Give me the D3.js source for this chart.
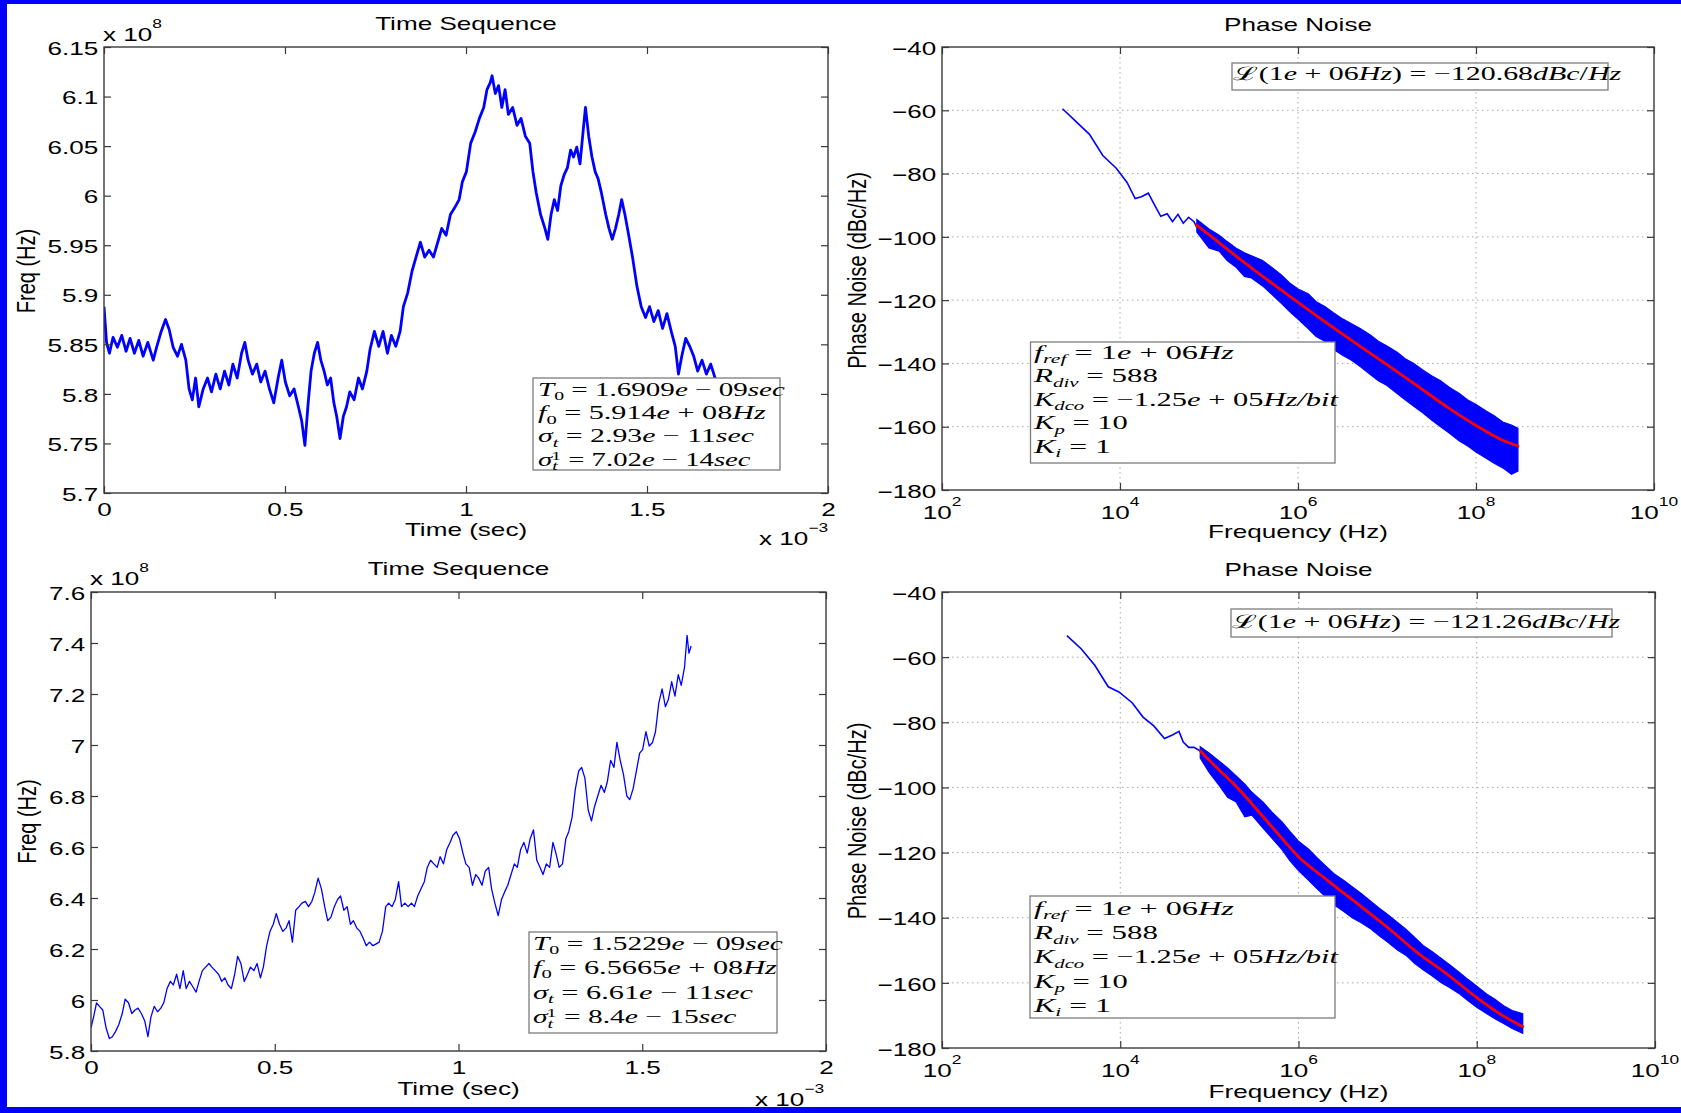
<!DOCTYPE html>
<html>
<head>
<meta charset="utf-8">
<title>Time Sequence and Phase Noise</title>
<script src="https://cdn.jsdelivr.net/npm/d3@7"></script>
<style>
  html, body { margin: 0; padding: 0; background: #fff; }
  svg { display: block; }
  .sans { font-family: "Liberation Sans", Arial, Helvetica, sans-serif; fill: #000; }
  .math { font-family: "Liberation Serif", "Times New Roman", serif; fill: #000; white-space: pre; }
</style>
</head>
<body>
<svg id="fig" width="1681" height="1113"></svg>
<script>
// ---------------- data ----------------
// Run 1 time sequence: time in 1e-3 s, frequency in 1e8 Hz
const seq1Time = [0,0.007,0.015,0.025,0.037,0.049,0.061,0.072,0.084,0.096,
  0.108,0.121,0.136,0.146,0.158,0.170,0.180,0.191,0.203,0.214,
  0.226,0.235,0.244,0.253,0.262,0.274,0.286,0.297,0.309,0.321,
  0.333,0.345,0.356,0.368,0.380,0.389,0.398,0.410,0.422,0.433,
  0.445,0.457,0.469,0.481,0.491,0.501,0.513,0.525,0.537,0.546,
  0.555,0.564,0.572,0.581,0.590,0.599,0.608,0.617,0.626,0.635,
  0.643,0.652,0.661,0.670,0.679,0.691,0.703,0.714,0.726,0.735,
  0.747,0.759,0.771,0.783,0.794,0.806,0.818,0.827,0.839,0.851,
  0.862,0.874,0.886,0.898,0.910,0.922,0.933,0.945,0.957,0.969,
  0.981,0.990,1.001,1.013,1.025,1.037,1.049,1.058,1.067,1.072,
  1.081,1.090,1.099,1.108,1.117,1.129,1.141,1.152,1.164,1.176,
  1.185,1.194,1.206,1.218,1.226,1.235,1.244,1.253,1.262,1.271,
  1.280,1.289,1.297,1.306,1.315,1.324,1.330,1.339,1.348,1.357,
  1.365,1.374,1.386,1.395,1.404,1.413,1.422,1.430,1.439,1.448,
  1.460,1.472,1.484,1.496,1.507,1.519,1.531,1.543,1.555,1.567,
  1.578,1.587,1.596,1.607,1.618,1.629,1.640,1.652,1.664,1.676,
  1.688,1.700];
const seq1Freq = [5.888,5.852,5.841,5.857,5.847,5.859,5.843,5.856,5.841,5.854,
  5.838,5.852,5.834,5.848,5.863,5.875,5.865,5.847,5.838,5.850,
  5.834,5.805,5.794,5.816,5.787,5.805,5.816,5.802,5.820,5.805,
  5.823,5.809,5.830,5.816,5.841,5.852,5.834,5.820,5.830,5.812,
  5.823,5.805,5.791,5.816,5.834,5.812,5.798,5.805,5.787,5.773,
  5.748,5.791,5.823,5.841,5.852,5.834,5.823,5.809,5.816,5.791,
  5.777,5.755,5.777,5.787,5.802,5.794,5.816,5.805,5.823,5.845,
  5.863,5.848,5.863,5.841,5.859,5.848,5.863,5.888,5.902,5.924,
  5.938,5.953,5.938,5.945,5.938,5.953,5.967,5.960,5.981,5.988,
  5.996,6.014,6.024,6.053,6.064,6.078,6.089,6.107,6.114,6.121,
  6.103,6.111,6.089,6.107,6.082,6.089,6.071,6.078,6.060,6.053,
  6.024,6.003,5.981,5.967,5.956,5.981,5.996,5.985,6.010,6.021,
  6.028,6.046,6.039,6.049,6.032,6.067,6.089,6.060,6.039,6.024,
  6.017,6.003,5.981,5.967,5.956,5.967,5.981,5.996,5.981,5.963,
  5.938,5.909,5.888,5.877,5.888,5.873,5.884,5.866,5.881,5.863,
  5.848,5.820,5.838,5.856,5.848,5.838,5.823,5.834,5.820,5.830,
  5.816,5.809];

// Run 2 time sequence: time in 1e-3 s, frequency in 1e8 Hz
const seq2Time = [0.000,0.007,0.015,0.023,0.032,0.041,0.050,0.058,0.067,0.076,
  0.085,0.093,0.102,0.111,0.120,0.128,0.137,0.146,0.155,0.163,
  0.172,0.181,0.190,0.198,0.207,0.216,0.224,0.233,0.242,0.251,
  0.259,0.268,0.277,0.286,0.294,0.303,0.312,0.321,0.329,0.338,
  0.347,0.356,0.364,0.373,0.382,0.391,0.399,0.408,0.417,0.426,
  0.434,0.443,0.452,0.461,0.469,0.478,0.487,0.496,0.504,0.513,
  0.522,0.531,0.539,0.548,0.557,0.566,0.574,0.583,0.592,0.601,
  0.609,0.618,0.627,0.636,0.644,0.653,0.662,0.671,0.679,0.688,
  0.697,0.706,0.714,0.723,0.732,0.741,0.749,0.758,0.767,0.776,
  0.784,0.793,0.802,0.810,0.819,0.828,0.837,0.845,0.854,0.863,
  0.872,0.880,0.889,0.898,0.907,0.915,0.924,0.933,0.942,0.950,
  0.959,0.968,0.977,0.985,0.994,1.003,1.012,1.020,1.029,1.038,
  1.047,1.055,1.064,1.073,1.082,1.090,1.099,1.108,1.117,1.125,
  1.134,1.143,1.152,1.160,1.169,1.178,1.187,1.195,1.204,1.213,
  1.222,1.230,1.239,1.248,1.257,1.265,1.274,1.283,1.292,1.300,
  1.309,1.318,1.327,1.335,1.344,1.353,1.362,1.370,1.379,1.388,
  1.397,1.405,1.414,1.423,1.431,1.440,1.449,1.458,1.466,1.475,
  1.484,1.493,1.501,1.510,1.519,1.528,1.536,1.545,1.554,1.563,
  1.571,1.580,1.589,1.598,1.606,1.615,1.622,1.627,1.633];
const seq2Freq = [5.891,5.933,5.989,5.975,5.961,5.891,5.849,5.856,5.877,5.905,
  5.947,6.003,5.989,5.947,5.961,5.968,5.947,5.919,5.856,5.933,
  5.975,5.954,5.968,5.989,6.045,6.073,6.059,6.101,6.045,6.115,
  6.045,6.073,6.052,6.031,6.073,6.115,6.129,6.143,6.129,6.115,
  6.101,6.073,6.087,6.059,6.045,6.101,6.171,6.143,6.073,6.101,
  6.129,6.115,6.143,6.087,6.129,6.213,6.269,6.297,6.339,6.297,
  6.269,6.283,6.311,6.227,6.352,6.366,6.380,6.387,6.366,6.387,
  6.422,6.478,6.436,6.366,6.311,6.325,6.366,6.394,6.408,6.352,
  6.366,6.297,6.311,6.283,6.269,6.241,6.213,6.227,6.213,6.220,
  6.227,6.269,6.366,6.380,6.366,6.394,6.464,6.366,6.380,6.366,
  6.380,6.366,6.408,6.436,6.464,6.520,6.548,6.534,6.520,6.562,
  6.534,6.590,6.618,6.646,6.660,6.632,6.576,6.534,6.520,6.450,
  6.492,6.478,6.450,6.506,6.520,6.436,6.380,6.331,6.394,6.422,
  6.450,6.492,6.534,6.520,6.590,6.618,6.576,6.632,6.667,6.548,
  6.520,6.492,6.534,6.520,6.618,6.576,6.520,6.534,6.632,6.660,
  6.716,6.828,6.898,6.912,6.870,6.744,6.702,6.758,6.800,6.842,
  6.814,6.856,6.940,6.912,7.010,6.940,6.884,6.800,6.786,6.828,
  6.898,6.968,6.982,7.052,6.996,7.010,7.052,7.164,7.220,7.150,
  7.178,7.248,7.192,7.276,7.234,7.304,7.430,7.360,7.388];

// Run 1 phase noise: offset frequency (Hz) and level (dBc/Hz)
const pn1LowF  = [2.26e3,3.21e3,4.54e3,6.41e3,9.08e3,1.20e4,1.48e4,1.74e4,2.08e4,2.40e4,2.87e4,3.39e4,3.89e4,4.48e4,5.14e4,5.90e4,6.78e4,7.26e4];
const pn1LowDb = [-59.5,-63.6,-67.6,-74.3,-78.3,-82.8,-87.9,-87.3,-86.2,-89.5,-93.5,-92.7,-95.2,-92.9,-95.7,-93.8,-95.2,-96.9];
const pn1BandF = [7.3e4,1e5,1.3e5,1.6e5,2e5,2.5e5,3e5,4e5,5e5,6.5e5,8e5,1e6,1.3e6,1.6e6,2e6,2.5e6,3.2e6,4e6,5e6,6.5e6,8e6,1e7,1.3e7,1.6e7,2e7,2.5e7,3.2e7,4e7,5e7,6.5e7,8e7,1e8,1.3e8,1.6e8,2e8,2.5e8,2.96e8];
const pn1Upper = [-94.5,-97.5,-99.5,-101.5,-103.5,-105.0,-106.0,-107.5,-109.5,-112.0,-114.5,-116.5,-118.0,-120.5,-122.0,-124.0,-126.0,-127.5,-129.0,-131.0,-133.0,-134.5,-136.5,-138.5,-140.0,-142.0,-144.0,-145.5,-147.5,-149.5,-151.5,-153.0,-155.0,-156.5,-158.5,-159.5,-160.5];
const pn1Lower = [-98.5,-103.5,-104.5,-107.5,-109.5,-112.5,-113.0,-115.5,-118.0,-121.0,-123.5,-126.0,-129.0,-131.5,-133.0,-135.5,-137.5,-139.0,-141.0,-143.5,-145.5,-147.0,-149.5,-151.5,-153.5,-155.5,-158.0,-160.0,-162.0,-164.5,-166.0,-168.0,-170.0,-171.5,-173.0,-175.0,-174.0];
const pn1FitF  = [7.26e4,1e5,2e5,5e5,1e6,2e6,5e6,1e7,2e7,5e7,1e8,2e8,2.96e8];
const pn1FitDb = [-96.3,-99.3,-106.0,-114.5,-120.68,-126.8,-134.6,-140.4,-146.3,-154.2,-159.6,-164.3,-166.1];

// Run 2 phase noise
const pn2LowF  = [2.52e3,3.66e3,5.18e3,7.33e3,9.66e3,1.36e4,1.80e4,2.38e4,3.13e4,3.85e4,4.56e4,5.09e4,5.85e4,6.71e4,7.93e4];
const pn2LowDb = [-53.4,-57.5,-62.5,-69.1,-70.7,-74.0,-78.4,-81.1,-85.0,-83.9,-82.8,-86.1,-87.7,-87.7,-88.8];
const pn2BandF = [7.9e4,1e5,1.3e5,1.6e5,2e5,2.5e5,3e5,4e5,5e5,6.5e5,8e5,1e6,1.3e6,1.6e6,2e6,2.5e6,3.2e6,4e6,5e6,6.5e6,8e6,1e7,1.3e7,1.6e7,2e7,2.5e7,3.2e7,4e7,5e7,6.5e7,8e7,1e8,1.3e8,1.6e8,2e8,2.5e8,3.28e8];
const pn2Upper = [-87.5,-89.5,-92,-94,-96.5,-99,-101.5,-104.5,-107.5,-110.5,-113.5,-116.5,-119,-121.5,-124,-126.5,-128.5,-130.5,-132.5,-135,-137,-139,-141.5,-143.5,-146,-148.5,-150.5,-152.5,-154.5,-157,-159,-161,-163.5,-165,-167,-168.5,-169.5];
const pn2Lower = [-91,-95.5,-99.5,-103,-104.5,-109,-108.5,-112.5,-115.5,-119,-122.5,-125.5,-128.5,-131,-133.5,-136,-138,-140,-141.5,-143.5,-145.5,-147.5,-150,-151.5,-154,-156,-158,-160,-161.5,-163.5,-165.5,-167.5,-169.5,-171,-172.5,-174,-175.5];
const pn2FitF  = [7.93e4,1e5,2e5,5e5,1e6,2e6,5e6,1e7,2e7,5e7,1e8,2e8,3.28e8];
const pn2FitDb = [-88.8,-91.7,-99.7,-112.0,-121.26,-128.0,-136.5,-143.0,-150.0,-158.0,-164.5,-170.2,-173.4];

// Axis ticks
const seq1YTicks = [5.7,5.75,5.8,5.85,5.9,5.95,6,6.05,6.1,6.15];
const seq2YTicks = [5.8,6,6.2,6.4,6.6,6.8,7,7.2,7.4,7.6];
const seqXTicks  = [0,0.5,1,1.5,2];
const pnYTicks   = [-180,-160,-140,-120,-100,-80,-60,-40];
const pnXTicks   = [1e2,1e4,1e6,1e8,1e10];

// Annotation texts: [text, style]  (i = italic, sub = italic subscript, sub0 = upright subscript, sup = superscript)
const seq1Stats = [
  [["T","i"],["0","sub0"],[" = 1.6909","n"],["e","i"],[" − 09","n"],["sec","i"]],
  [["f","i"],["0","sub0"],[" = 5.914","n"],["e","i"],[" + 08","n"],["Hz","i"]],
  [["σ","i"],["t","sub"],[" = 2.93","n"],["e","i"],[" − 11","n"],["sec","i"]],
  [["σ","i"],["t","sub"],["1","sup"],[" = 7.02","n"],["e","i"],[" − 14","n"],["sec","i"]]
];
const seq2Stats = [
  [["T","i"],["0","sub0"],[" = 1.5229","n"],["e","i"],[" − 09","n"],["sec","i"]],
  [["f","i"],["0","sub0"],[" = 6.5665","n"],["e","i"],[" + 08","n"],["Hz","i"]],
  [["σ","i"],["t","sub"],[" = 6.61","n"],["e","i"],[" − 11","n"],["sec","i"]],
  [["σ","i"],["t","sub"],["1","sup"],[" = 8.4","n"],["e","i"],[" − 15","n"],["sec","i"]]
];
const loopParams = [
  [["f","i"],["ref","sub"],[" = 1","n"],["e","i"],[" + 06","n"],["Hz","i"]],
  [["R","i"],["div","sub"],[" = 588","n"]],
  [["K","i"],["dco","sub"],[" = −1.25","n"],["e","i"],[" + 05","n"],["Hz/bit","i"]],
  [["K","i"],["p","sub"],[" = 10","n"]],
  [["K","i"],["i","sub"],[" = 1","n"]]
];
const pn1Spot = [["ℒ","n"],["(1","n"],["e","i"],[" + 06","n"],["Hz","i"],[") = −120.68","n"],["dBc","i"],["/","n"],["Hz","i"]];
const pn2Spot = [["ℒ","n"],["(1","n"],["e","i"],[" + 06","n"],["Hz","i"],[") = −121.26","n"],["dBc","i"],["/","n"],["Hz","i"]];

// ---------------- drawing ----------------
const SX = 1.45;            // horizontal glyph stretch of the figure text
const AXIS = "#3a3a3a";
const svg = d3.select("#fig");
svg.append("rect").attr("width", 1681).attr("height", 1113).attr("fill", "#fff");
const defs = svg.append("defs");

function sText(g, x, y, str, anchor = "start", fs = 18) {
  return g.append("text").attr("class", "sans")
    .attr("transform", `translate(${x},${y}) scale(${SX},1)`)
    .attr("text-anchor", anchor).style("font-size", fs + "px").text(str);
}
function sPow(g, x, y, base, exp, anchor = "start") {
  const t = g.append("text").attr("class", "sans")
    .attr("transform", `translate(${x},${y}) scale(${SX},1)`)
    .attr("text-anchor", anchor).style("font-size", "18px");
  t.append("tspan").text(base);
  t.append("tspan").attr("dy", -13).style("font-size", "12px").text(exp);
  return t;
}
function yLabel(g, x, y, str) {
  g.append("text").attr("class", "sans")
    .attr("transform", `translate(${x},${y}) rotate(-90) scale(1,1.26)`)
    .attr("text-anchor", "middle").style("font-size", "20px").text(str);
}
function mathLine(g, x, y, segs, width, fs = 18.5) {
  const t = g.append("text").attr("class", "math").attr("x", x).attr("y", y)
    .style("font-size", fs + "px");
  let shift = 0;
  for (const [str, kind] of segs) {
    let off = 0, small = false, italic = false, dx = 0;
    if (kind === "i") italic = true;
    if (kind === "sub") { italic = true; small = true; off = 0.22 * fs; }
    if (kind === "sub0") { small = true; off = 0.22 * fs; }
    if (kind === "sup") { small = true; off = -0.34 * fs; dx = -0.22 * fs; }
    const sp = t.append("tspan").text(str).attr("dy", off - shift);
    shift = off;
    if (dx) sp.attr("dx", dx);
    if (italic) sp.style("font-style", "italic");
    if (small) sp.style("font-size", (0.68 * fs) + "px");
  }
  const w = t.node().getComputedTextLength();
  t.attr("transform", `translate(${x},0) scale(${width / w},1) translate(${-x},0)`);
}
function textBox(g, x, y, w, h) {
  g.append("rect").attr("x", x).attr("y", y).attr("width", w).attr("height", h)
    .attr("fill", "#fff").attr("stroke", "#7c7c7c").attr("stroke-width", 1.3);
}

// Inward ticks on all four sides plus the frame
function drawAxes(g, x, y, xTicks, yTicks, box, opts) {
  const styleTicks = sel => {
    sel.select(".domain").remove();
    sel.selectAll(".tick line").attr("stroke", AXIS).attr("stroke-width", 1.2);
  };
  const left = g.append("g").attr("transform", `translate(${box.x0},0)`)
    .call(d3.axisLeft(y).tickValues(yTicks).tickSizeInner(-7).tickSizeOuter(0)
      .tickPadding(4).tickFormat(opts.yFmt));
  styleTicks(left);
  left.selectAll(".tick text").attr("class", "sans").attr("fill", "#000")
    .style("font-size", "18px").attr("dy", "0.4em")
    .attr("transform", `scale(${SX},1)`);
  const right = g.append("g").attr("transform", `translate(${box.x1},0)`)
    .call(d3.axisRight(y).tickValues(yTicks).tickSizeInner(-7).tickSizeOuter(0).tickFormat(""));
  styleTicks(right);
  const bottom = g.append("g").attr("transform", `translate(0,${box.y1})`)
    .call(d3.axisBottom(x).tickValues(xTicks).tickSizeInner(-7).tickSizeOuter(0)
      .tickPadding(10).tickFormat(opts.xFmt || ""));
  styleTicks(bottom);
  bottom.selectAll(".tick text").attr("class", "sans").attr("fill", "#000")
    .style("font-size", "18px").attr("transform", `scale(${SX},1)`);
  const top = g.append("g").attr("transform", `translate(0,${box.y0})`)
    .call(d3.axisTop(x).tickValues(xTicks).tickSizeInner(-7).tickSizeOuter(0).tickFormat(""));
  styleTicks(top);
  g.append("rect").attr("x", box.x0).attr("y", box.y0)
    .attr("width", box.x1 - box.x0).attr("height", box.y1 - box.y0)
    .attr("fill", "none").attr("stroke", AXIS).attr("stroke-width", 1.4);
}

function clipFor(id, box) {
  defs.append("clipPath").attr("id", id).append("rect")
    .attr("x", box.x0).attr("y", box.y0).attr("width", box.x1 - box.x0).attr("height", box.y1 - box.y0);
  return `url(#${id})`;
}

// ---- time sequence panels ----
function seqPanel(cfg) {
  const { box, time, freq, yDom, yTicks, stats, statBox, statX, statY, statW, stroke } = cfg;
  const g = svg.append("g");
  const x = d3.scaleLinear().domain([0, 2]).range([box.x0, box.x1]);
  const y = d3.scaleLinear().domain(yDom).range([box.y1, box.y0]);
  const pts = d3.zip(time, freq);
  g.append("path").datum(pts)
    .attr("clip-path", clipFor(cfg.id, box))
    .attr("fill", "none").attr("stroke", "#0000ff").attr("stroke-width", stroke)
    .attr("stroke-linejoin", "round")
    .attr("d", d3.line().x(d => x(d[0])).y(d => y(d[1])));
  textBox(g, ...statBox);
  stats.forEach((line, i) => mathLine(g, statX, statY[i], line, statW[i]));
  drawAxes(g, x, y, seqXTicks, yTicks, box, { yFmt: d3.format("~g"), xFmt: d3.format("~g") });
  sText(g, (box.x0 + box.x1) / 2, cfg.titleY, "Time Sequence", "middle");
  sPow(g, box.x0 - 1, cfg.expY, "x 10", "8");
  sText(g, (box.x0 + box.x1) / 2, cfg.xLabY, "Time (sec)", "middle");
  sPow(g, cfg.xExpX, cfg.xExpY, "x 10", "−3");
  yLabel(g, cfg.yLabX, (box.y0 + box.y1) / 2 + cfg.yLabDy, "Freq (Hz)");
}

seqPanel({
  id: "clipA", box: { x0: 104, x1: 828, y0: 47, y1: 493 },
  time: seq1Time, freq: seq1Freq, yDom: [5.7, 6.15], yTicks: seq1YTicks, stroke: 2.8,
  stats: seq1Stats, statBox: [533, 378, 247, 92], statX: 538,
  statY: [396, 419.5, 442.5, 466], statW: [247, 228, 216, 219],
  titleY: 30, expY: 41, xLabY: 536, xExpX: 759, xExpY: 545, yLabX: 35, yLabDy: 1
});
seqPanel({
  id: "clipC", box: { x0: 91, x1: 826, y0: 592, y1: 1051 },
  time: seq2Time, freq: seq2Freq, yDom: [5.8, 7.6], yTicks: seq2YTicks, stroke: 1.3,
  stats: seq2Stats, statBox: [529, 932, 248, 101], statX: 533,
  statY: [950, 974, 999, 1023.5], statW: [250, 244, 220, 210],
  titleY: 575, expY: 585, xLabY: 1095, xExpX: 755, xExpY: 1106, yLabX: 36, yLabDy: 0
});

// ---- phase noise panels ----
function pnPanel(cfg) {
  const { box } = cfg;
  const g = svg.append("g");
  const x = d3.scaleLog().domain([1e2, 1e10]).range([box.x0, box.x1]);
  const y = d3.scaleLinear().domain([-180, -40]).range([box.y1, box.y0]);
  const grid = g.append("g").attr("stroke", "#a8a8a8").attr("stroke-width", 1)
    .attr("stroke-dasharray", "1.5,3.5");
  pnYTicks.slice(1, -1).forEach(v => grid.append("line")
    .attr("x1", box.x0).attr("x2", box.x1).attr("y1", y(v)).attr("y2", y(v)));
  pnXTicks.slice(1, -1).forEach(v => grid.append("line")
    .attr("x1", x(v)).attr("x2", x(v)).attr("y1", box.y0).attr("y2", box.y1));

  const data = g.append("g").attr("clip-path", clipFor(cfg.id, box));
  data.append("path").datum(d3.zip(cfg.bandF, cfg.upper, cfg.lower))
    .attr("fill", "#0000ff").attr("stroke", "#0000ff").attr("stroke-width", 1.2)
    .attr("stroke-linejoin", "miter")
    .attr("d", d3.area().x(d => x(d[0])).y0(d => y(d[2])).y1(d => y(d[1])));
  data.append("path").datum(d3.zip(cfg.lowF, cfg.lowDb))
    .attr("fill", "none").attr("stroke", "#0000ff").attr("stroke-width", 1.6)
    .attr("d", d3.line().x(d => x(d[0])).y(d => y(d[1])));
  data.append("path").datum(d3.zip(cfg.fitF, cfg.fitDb))
    .attr("fill", "none").attr("stroke", "#ff0000").attr("stroke-width", 2.8)
    .attr("stroke-linecap", "round")
    .attr("d", d3.line().curve(d3.curveMonotoneX).x(d => x(d[0])).y(d => y(d[1])));

  textBox(g, ...cfg.spotBox);
  mathLine(g, cfg.spotBox[0] + 1.5, cfg.spotY, cfg.spot, 387);
  textBox(g, ...cfg.parBox);
  loopParams.forEach((line, i) => mathLine(g, 1034, cfg.parY[i], line, [200, 124, 304, 94, 77][i]));

  drawAxes(g, x, y, pnXTicks, pnYTicks, box, { yFmt: d => (d < 0 ? "−" + (-d) : String(d)) });
  pnXTicks.forEach(v => sPow(g, x(v), cfg.xTickY, "10", String(Math.round(Math.log10(v))), "middle"));
  sText(g, (box.x0 + box.x1) / 2, cfg.titleY, "Phase Noise", "middle");
  sText(g, (box.x0 + box.x1) / 2, cfg.xLabY, "Frequency (Hz)", "middle");
  yLabel(g, 866, (box.y0 + box.y1) / 2 + cfg.yLabDy, "Phase Noise (dBc/Hz)");
}

pnPanel({
  id: "clipB", box: { x0: 942, x1: 1654, y0: 47, y1: 490 },
  lowF: pn1LowF, lowDb: pn1LowDb, bandF: pn1BandF, upper: pn1Upper, lower: pn1Lower,
  fitF: pn1FitF, fitDb: pn1FitDb,
  spot: pn1Spot, spotBox: [1232, 63, 376, 27], spotY: 80.5,
  parBox: [1030.5, 342, 304.5, 121], parY: [359, 382.5, 406, 429.5, 453],
  xTickY: 519, titleY: 31, xLabY: 538, yLabDy: 2
});
pnPanel({
  id: "clipD", box: { x0: 942, x1: 1655, y0: 592, y1: 1048 },
  lowF: pn2LowF, lowDb: pn2LowDb, bandF: pn2BandF, upper: pn2Upper, lower: pn2Lower,
  fitF: pn2FitF, fitDb: pn2FitDb,
  spot: pn2Spot, spotBox: [1231, 609, 381, 28], spotY: 628.5,
  parBox: [1030, 896, 305, 122], parY: [915, 939.5, 963.5, 988, 1012],
  xTickY: 1077, titleY: 576, xLabY: 1098, yLabDy: 1
});

// ---- outer frame of the figure ----
const frame = svg.append("g").attr("fill", "#0000ff");
frame.append("rect").attr("x", 0).attr("y", 0).attr("width", 7).attr("height", 1113);
frame.append("rect").attr("x", 0).attr("y", 0).attr("width", 1681).attr("height", 4);
frame.append("rect").attr("x", 0).attr("y", 1107).attr("width", 1681).attr("height", 6);
</script>
</body>
</html>
